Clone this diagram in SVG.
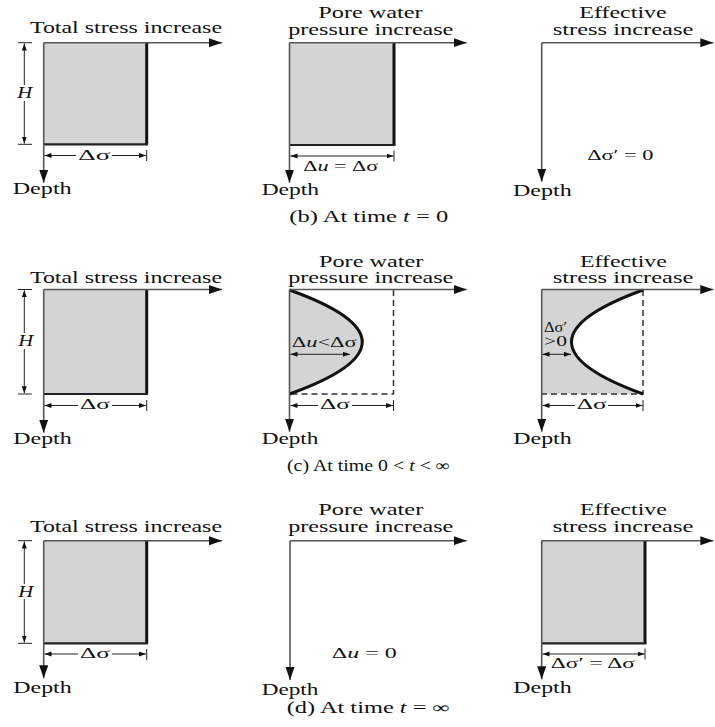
<svg xmlns="http://www.w3.org/2000/svg" width="715" height="727" viewBox="0 0 715 727">
<style>
text{font-family:"Liberation Serif","Times New Roman",serif;font-size:16px;fill:#111}
.sm{font-size:14px}
.it{font-style:italic}
.axis{stroke:#555;stroke-width:1.6;fill:none}
.dim{stroke:#222;stroke-width:1;fill:none}
.fill{fill:#d4d4d4;stroke:none}
.thick{stroke:#111;stroke-width:3;fill:none}
.bot{stroke:#222;stroke-width:2.2;fill:none}
.dash{stroke:#333;stroke-width:1.5;stroke-dasharray:6,4;fill:none}
.curve{stroke:#111;stroke-width:3;fill:none}
</style>
<defs>
<marker id="ah" markerUnits="userSpaceOnUse" markerWidth="14" markerHeight="10" refX="13" refY="4.5" orient="auto">
<path d="M0,0 L13,4.5 L0,9 Z" fill="#111"/>
</marker>
<marker id="da" markerUnits="userSpaceOnUse" markerWidth="8" markerHeight="6" refX="7" refY="2.5" orient="auto">
<path d="M0,0 L7,2.5 L0,5 Z" fill="#111"/>
</marker>
</defs>
<rect width="715" height="727" fill="#fff"/>

<!-- Row 1 -->
<g id="b-total">
<rect class="fill" x="43.7" y="42.7" width="103" height="101.6"/>
<path class="thick" d="M146.7,42.7 V144.3"/>
<path class="bot" d="M43.7,144.3 H148"/>
<path class="axis" d="M43.7,42.7 H222" marker-end="url(#ah)"/>
<path class="axis" d="M43.7,42.7 V182.7" marker-end="url(#ah)"/>
<text x="30" y="33" textLength="192" lengthAdjust="spacingAndGlyphs">Total stress increase</text>
<path class="dim" d="M18,42.7 H32 M18,144.3 H32 M146.7,150 V161"/>
<path class="dim" d="M24.3,85 V43.5" marker-end="url(#da)"/>
<path class="dim" d="M24.3,101 V143.5" marker-end="url(#da)"/>
<text class="it" x="17.3" y="98" textLength="15" lengthAdjust="spacingAndGlyphs">H</text>
<path class="dim" d="M76,155.5 H44.5" marker-end="url(#da)"/>
<path class="dim" d="M112,155.5 H146" marker-end="url(#da)"/>
<text class="sm" x="78.3" y="160" textLength="32" lengthAdjust="spacingAndGlyphs">Δσ</text>
<text x="12.7" y="194" textLength="59" lengthAdjust="spacingAndGlyphs">Depth</text>
</g>

<g id="b-pore">
<rect class="fill" x="289.5" y="42.7" width="104.5" height="102.3"/>
<path class="thick" d="M394,42.7 V145"/>
<path class="bot" d="M289.5,145 H395.5"/>
<path class="axis" d="M289.5,42.7 H466.7" marker-end="url(#ah)"/>
<path class="axis" d="M289.5,42.7 V182.7" marker-end="url(#ah)"/>
<text x="318.3" y="18" textLength="104.4" lengthAdjust="spacingAndGlyphs">Pore water</text>
<text x="288.3" y="35" textLength="165" lengthAdjust="spacingAndGlyphs">pressure increase</text>
<path class="dim" d="M341,156 H290.5" marker-end="url(#da)"/>
<path class="dim" d="M341,156 H393.5" marker-end="url(#da)"/>
<path class="dim" d="M394,150.5 V161.5"/>
<text class="sm" x="303.3" y="171" textLength="75" lengthAdjust="spacingAndGlyphs">Δ<tspan class="it">u</tspan> = Δσ</text>
<text x="261.7" y="195" textLength="57.3" lengthAdjust="spacingAndGlyphs">Depth</text>
<text x="289.3" y="221.7" textLength="159" lengthAdjust="spacingAndGlyphs">(b) At time <tspan class="it">t</tspan> = 0</text>
</g>

<g id="b-effective">
<path class="axis" d="M541.7,42.7 H713.3" marker-end="url(#ah)"/>
<path class="axis" d="M541.7,42.7 V181.7" marker-end="url(#ah)"/>
<text x="579.3" y="18" textLength="87.4" lengthAdjust="spacingAndGlyphs">Effective</text>
<text x="552.7" y="35" textLength="140.6" lengthAdjust="spacingAndGlyphs">stress increase</text>
<text class="sm" x="587.3" y="160" textLength="66" lengthAdjust="spacingAndGlyphs">Δσ′ = 0</text>
<text x="513" y="196" textLength="58.7" lengthAdjust="spacingAndGlyphs">Depth</text>
</g>

<!-- Row 2 -->
<g id="c-total">
<rect class="fill" x="43.7" y="289.5" width="103" height="104.5"/>
<path class="thick" d="M146.7,289.5 V394"/>
<path class="bot" d="M43.7,394 H148"/>
<path class="axis" d="M43.7,289.5 H222" marker-end="url(#ah)"/>
<path class="axis" d="M43.7,289.5 V432.7" marker-end="url(#ah)"/>
<text x="30" y="282.7" textLength="192" lengthAdjust="spacingAndGlyphs">Total stress increase</text>
<path class="dim" d="M18,289.5 H32 M18,394 H32 M146.7,400 V411"/>
<path class="dim" d="M24.3,333 V290.3" marker-end="url(#da)"/>
<path class="dim" d="M24.3,349 V393.2" marker-end="url(#da)"/>
<text class="it" x="18.3" y="346" textLength="15" lengthAdjust="spacingAndGlyphs">H</text>
<path class="dim" d="M78,405.5 H44.5" marker-end="url(#da)"/>
<path class="dim" d="M112,405.5 H146" marker-end="url(#da)"/>
<text class="sm" x="80" y="409" textLength="30" lengthAdjust="spacingAndGlyphs">Δσ</text>
<text x="13.3" y="444" textLength="58.4" lengthAdjust="spacingAndGlyphs">Depth</text>
</g>

<g id="c-pore">
<path class="fill" d="M289.5,290 Q435,342 289.5,394 Z"/>
<path class="dash" d="M393.5,290 V394 H289.5"/>
<path class="curve" d="M289.5,290 Q435,342 289.5,394"/>
<path class="axis" d="M289.5,289.5 H466.7" marker-end="url(#ah)"/>
<path class="axis" d="M289.5,289.5 V431.7" marker-end="url(#ah)"/>
<text x="319" y="266.7" textLength="104.3" lengthAdjust="spacingAndGlyphs">Pore water</text>
<text x="288.3" y="282.7" textLength="165" lengthAdjust="spacingAndGlyphs">pressure increase</text>
<text class="sm" x="291.7" y="347.3" textLength="65" lengthAdjust="spacingAndGlyphs">Δ<tspan class="it">u</tspan>&lt;Δσ</text>
<path class="dim" d="M320,354.3 H290.5" marker-end="url(#da)"/>
<path class="dim" d="M320,354.3 H350" marker-end="url(#da)"/>
<path class="dim" d="M318,405.5 H290.5" marker-end="url(#da)"/>
<path class="dim" d="M352,405.5 H393" marker-end="url(#da)"/>
<path class="dim" d="M393.5,400 V411"/>
<text class="sm" x="320" y="409" textLength="30" lengthAdjust="spacingAndGlyphs">Δσ</text>
<text x="261.7" y="444" textLength="56.6" lengthAdjust="spacingAndGlyphs">Depth</text>
<text x="287" y="471" textLength="163" lengthAdjust="spacingAndGlyphs">(c) At time 0 &lt; <tspan class="it">t</tspan> &lt; ∞</text>
</g>

<g id="c-effective">
<path class="fill" d="M541.7,290 H643 Q500,342 643,394 H541.7 Z"/>
<path class="dash" d="M643,290 V394 H541.7"/>
<path class="curve" d="M643,290 Q500,342 643,394"/>
<path class="axis" d="M541.7,289.5 H713.3" marker-end="url(#ah)"/>
<path class="axis" d="M541.7,289.5 V431.7" marker-end="url(#ah)"/>
<text x="580" y="266.7" textLength="86.7" lengthAdjust="spacingAndGlyphs">Effective</text>
<text x="552.7" y="282.7" textLength="140.6" lengthAdjust="spacingAndGlyphs">stress increase</text>
<text class="sm" x="544" y="331.7" textLength="23" lengthAdjust="spacingAndGlyphs">Δσ′</text>
<text class="sm" x="544" y="346" textLength="23" lengthAdjust="spacingAndGlyphs">&gt;0</text>
<path class="dim" d="M557,354.3 H542.5" marker-end="url(#da)"/>
<path class="dim" d="M557,354.3 H571" marker-end="url(#da)"/>
<path class="dim" d="M575,405.5 H542.5" marker-end="url(#da)"/>
<path class="dim" d="M608,405.5 H642.5" marker-end="url(#da)"/>
<path class="dim" d="M643,400 V411"/>
<text class="sm" x="576.7" y="409" textLength="30" lengthAdjust="spacingAndGlyphs">Δσ</text>
<text x="513.3" y="444" textLength="58.4" lengthAdjust="spacingAndGlyphs">Depth</text>
</g>

<!-- Row 3 -->
<g id="d-total">
<rect class="fill" x="43.7" y="540.7" width="103" height="102.6"/>
<path class="thick" d="M146.7,540.7 V643.3"/>
<path class="bot" d="M43.7,643.3 H148"/>
<path class="axis" d="M43.7,540.7 H222" marker-end="url(#ah)"/>
<path class="axis" d="M43.7,540.7 V678.3" marker-end="url(#ah)"/>
<text x="30" y="531.7" textLength="192" lengthAdjust="spacingAndGlyphs">Total stress increase</text>
<path class="dim" d="M18,540.7 H32 M18,643.3 H32 M146.7,649 V660"/>
<path class="dim" d="M24.3,584 V541.5" marker-end="url(#da)"/>
<path class="dim" d="M24.3,599 V642.5" marker-end="url(#da)"/>
<text class="it" x="18.3" y="596.7" textLength="15" lengthAdjust="spacingAndGlyphs">H</text>
<path class="dim" d="M78,654 H44.5" marker-end="url(#da)"/>
<path class="dim" d="M112,654 H146" marker-end="url(#da)"/>
<text class="sm" x="80" y="657.5" textLength="30" lengthAdjust="spacingAndGlyphs">Δσ</text>
<text x="13.3" y="693.3" textLength="58.4" lengthAdjust="spacingAndGlyphs">Depth</text>
</g>

<g id="d-pore">
<path class="axis" d="M290,540.7 H466.7" marker-end="url(#ah)"/>
<path class="axis" d="M290,540.7 V680" marker-end="url(#ah)"/>
<text x="318.3" y="515" textLength="105" lengthAdjust="spacingAndGlyphs">Pore water</text>
<text x="288.3" y="531.7" textLength="165" lengthAdjust="spacingAndGlyphs">pressure increase</text>
<text class="sm" x="331.7" y="658.3" textLength="65" lengthAdjust="spacingAndGlyphs">Δ<tspan class="it">u</tspan> = 0</text>
<text x="261.7" y="695" textLength="56.6" lengthAdjust="spacingAndGlyphs">Depth</text>
<text x="286.7" y="713.3" textLength="163.3" lengthAdjust="spacingAndGlyphs">(d) At time <tspan class="it">t</tspan> = ∞</text>
</g>

<g id="d-effective">
<rect class="fill" x="541.7" y="540.7" width="103.3" height="102.6"/>
<path class="thick" d="M645,540.7 V643.3"/>
<path class="bot" d="M541.7,643.3 H646.5"/>
<path class="axis" d="M541.7,540.7 H713.3" marker-end="url(#ah)"/>
<path class="axis" d="M541.7,540.7 V679.3" marker-end="url(#ah)"/>
<text x="580" y="515" textLength="86.7" lengthAdjust="spacingAndGlyphs">Effective</text>
<text x="552.7" y="531.7" textLength="140.6" lengthAdjust="spacingAndGlyphs">stress increase</text>
<path class="dim" d="M593,654 H542.5" marker-end="url(#da)"/>
<path class="dim" d="M593,654 H644.5" marker-end="url(#da)"/>
<path class="dim" d="M645,648.5 V659.5"/>
<text class="sm" x="550.7" y="668.3" textLength="84.3" lengthAdjust="spacingAndGlyphs">Δσ′ = Δσ</text>
<text x="513.3" y="693.3" textLength="58.4" lengthAdjust="spacingAndGlyphs">Depth</text>
</g>
</svg>
